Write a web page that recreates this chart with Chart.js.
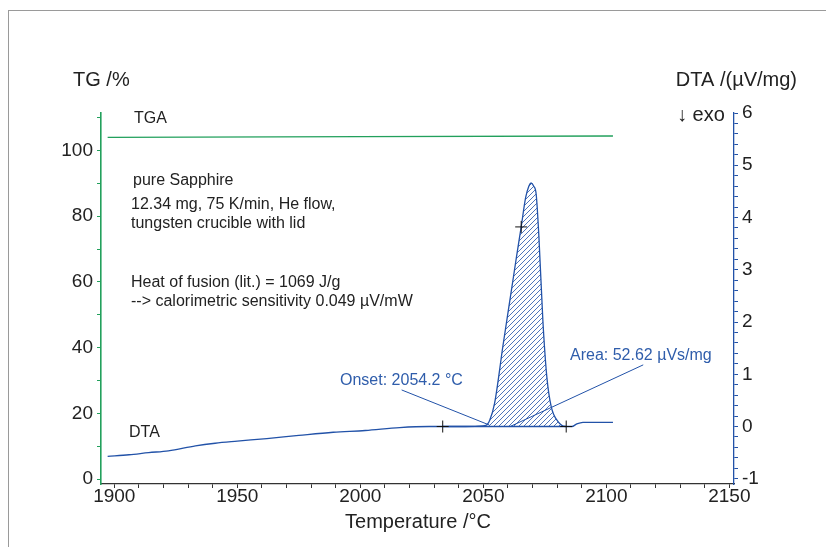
<!DOCTYPE html>
<html>
<head>
<meta charset="utf-8">
<script src="https://cdn.jsdelivr.net/npm/chart.js@4.4.1/dist/chart.umd.min.js"></script>
<style>
  html, body { margin: 0; padding: 0; background: #fff; }
  #wrap { position: relative; width: 826px; height: 547px; }
  #frame { position: absolute; left: 8px; top: 10px; right: -2px; bottom: -2px; border-left: 1px solid #9a9a9a; border-top: 1px solid #9a9a9a; }
  canvas { position: absolute; left: 0; top: 0; }
</style>
</head>
<body>
<div id="wrap">
  <div id="frame"></div>
  <canvas id="c" width="826" height="547"></canvas>
</div>
<script>
// DTA curve (temperature in °C, signal in µV/mg)
const dtaTemp = [1897.3, 1906, 1914, 1922, 1933, 1941, 1950, 1962, 1975, 1989, 2002, 2016, 2028, 2040, 2048,
  2051, 2052.6, 2054.6, 2058, 2061.4, 2063.5, 2065.4, 2067.2, 2068.5, 2069.4, 2070.5, 2071.5, 2072.6, 2074.2,
  2075.8, 2077.6, 2080.3, 2083.7, 2086, 2088, 2090.5, 2096, 2102.7];
const dtaValue = [-0.57, -0.54, -0.50, -0.465, -0.37, -0.32, -0.28, -0.23, -0.17, -0.11, -0.076, -0.02, 0.0, 0.0, 0.005,
  0.02, 0.12, 0.45, 1.55, 2.6, 3.25, 3.82, 4.38, 4.60, 4.66, 4.60, 4.44, 3.63, 2.04,
  0.96, 0.38, 0.10, 0.0, 0.0, 0.05, 0.08, 0.08, 0.08];

// TGA curve (%)
const tgaTemp = [1897.3, 2000, 2102.7];
const tgaValue = [104.0, 104.2, 104.4];

// peak integration limits and markers
const peakStart = 2051, peakEnd = 2083.7;
const markTemp = [2033.5, 2083.7, 2065.4];
const markValue = [0, 0, 3.82];
const baseTemp = [2033.5, 2083.7];
const baseValue = [0, 0];
const onsetTemp = [2016.8, 2052.4];
const onsetValue = [0.70, 0.03];
const areaTemp = [2115.0, 2060.9];
const areaValue = [1.18, 0];

const tgTicks = [0, 20, 40, 60, 80, 100];
const tempTicks = [1900, 1950, 2000, 2050, 2100, 2150];

const BLUE = '#2252a8';
const TXTBLUE = '#2f5dab';
const GREEN = '#22a05c';
const INK = '#222';
const FONT = 'Arial, "Liberation Sans", sans-serif';

const pts = (xs, ys) => xs.map((x, i) => ({ x: x, y: ys[i] }));
const dtaPts = pts(dtaTemp, dtaValue);
const peakPts = dtaPts.filter(p => p.x >= peakStart && p.x <= peakEnd);

const ctx = document.getElementById('c').getContext('2d');

function hatch(color) {
  const c = document.createElement('canvas');
  c.width = c.height = 5;
  const g = c.getContext('2d');
  g.strokeStyle = color;
  g.lineWidth = 0.8;
  g.beginPath();
  g.moveTo(0, 5); g.lineTo(5, 0);
  g.moveTo(-1, 1); g.lineTo(1, -1);
  g.moveTo(4, 6); g.lineTo(6, 4);
  g.stroke();
  return ctx.createPattern(c, 'repeat');
}

const texts = {
  id: 'texts',
  afterDraw(chart) {
    const g = chart.ctx;
    g.save();
    g.textBaseline = 'middle';
    g.fillStyle = INK;
    g.font = '20px ' + FONT;
    g.textAlign = 'left';
    g.fillText('TG /%', 73, 80);
    g.fillText('\u2193 exo', 677, 115);
    g.textAlign = 'right';
    g.fillText('DTA /(\u00b5V/mg)', 797, 80);
    g.textAlign = 'center';
    g.fillText('Temperature /\u00b0C', 418, 522);

    g.textAlign = 'left';
    g.font = '16px ' + FONT;
    g.fillText('TGA', 134, 119);
    g.fillText('pure Sapphire', 133, 181);
    g.fillText('12.34 mg, 75 K/min, He flow,', 131, 205);
    g.fillText('tungsten crucible with lid', 131, 224);
    g.fillText('Heat of fusion (lit.) = 1069 J/g', 131, 283);
    g.fillText('--> calorimetric sensitivity 0.049 \u00b5V/mW', 131, 302);
    g.fillText('DTA', 129, 433);

    g.fillStyle = TXTBLUE;
    g.fillText('Onset: 2054.2 \u00b0C', 340, 381);
    g.fillText('Area: 52.62 \u00b5Vs/mg', 570, 356);
    g.restore();
  }
};

const lineDs = (label, data, color, width, axis, order) => ({
  label: label, data: data, yAxisID: axis, borderColor: color, borderWidth: width,
  pointRadius: 0, fill: false, tension: 0, order: order
});

new Chart(ctx, {
  type: 'line',
  data: {
    datasets: [
      Object.assign(lineDs('DTA', dtaPts, BLUE, 1.3, 'y2', 1), { cubicInterpolationMode: 'monotone' }),
      Object.assign(lineDs('peak', peakPts, 'rgba(0,0,0,0)', 0, 'y2', 4), {
        cubicInterpolationMode: 'monotone', fill: { value: 0 }, backgroundColor: hatch(BLUE)
      }),
      lineDs('TGA', pts(tgaTemp, tgaValue), GREEN, 1.3, 'y', 2),
      lineDs('baseline', pts(baseTemp, baseValue), BLUE, 1.6, 'y2', 2),
      lineDs('onset', pts(onsetTemp, onsetValue), BLUE, 1, 'y2', 2),
      lineDs('area', pts(areaTemp, areaValue), BLUE, 1, 'y2', 2),
      {
        label: 'marks', type: 'scatter', data: pts(markTemp, markValue), yAxisID: 'y2',
        pointStyle: 'cross', pointRadius: 6, borderColor: '#111', borderWidth: 1, order: 0
      }
    ]
  },
  options: {
    responsive: false,
    animation: false,
    layout: { padding: { top: 113, left: 0, right: 0, bottom: 0 } },
    plugins: { legend: { display: false }, tooltip: { enabled: false } },
    scales: {
      x: {
        type: 'linear', min: 1894.6, max: 2151.9,
        afterFit: s => { s.height = 63; },
        border: { color: '#333', width: 1.3 },
        grid: { drawOnChartArea: false, tickLength: 4, color: '#333' },
        ticks: {
          stepSize: 10, includeBounds: false, autoSkip: false, maxRotation: 0, padding: -3,
          color: INK, font: { size: 19, family: FONT },
          callback: v => tempTicks.includes(v) ? String(v) : ''
        }
      },
      y: {
        position: 'left', min: -1.5, max: 111.4,
        afterFit: s => { s.width = 101; },
        border: { color: GREEN, width: 1.6 },
        grid: { drawOnChartArea: false, tickLength: 4, color: GREEN },
        ticks: {
          stepSize: 10, includeBounds: false, autoSkip: false, padding: 4,
          color: INK, font: { size: 19, family: FONT },
          callback: v => tgTicks.includes(v) ? String(v) : ''
        }
      },
      y2: {
        position: 'right', min: -1.1, max: 6.0,
        afterFit: s => { s.width = 92; },
        border: { color: BLUE, width: 1.3 },
        grid: { drawOnChartArea: false, tickLength: 4, color: BLUE },
        ticks: {
          stepSize: 0.2, includeBounds: false, autoSkip: false, padding: 4,
          color: INK, font: { size: 19, family: FONT },
          callback: v => Math.abs(v - Math.round(v)) < 1e-6 ? String(Math.round(v)) : ''
        }
      }
    }
  },
  plugins: [texts]
});
</script>
</body>
</html>
